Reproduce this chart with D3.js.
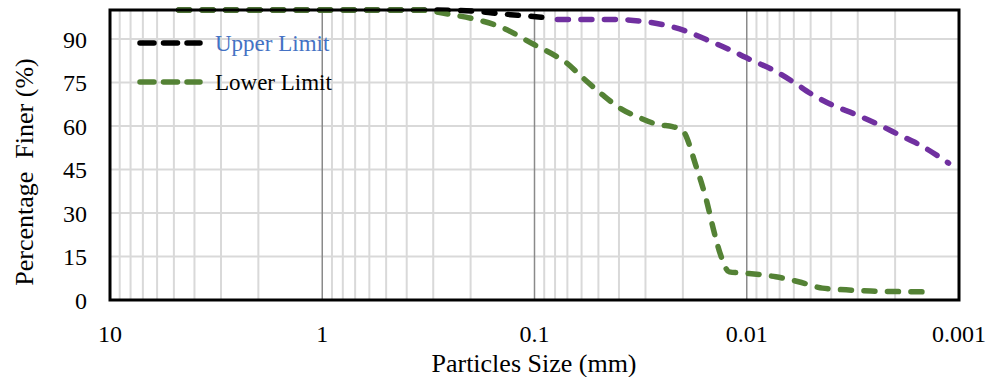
<!DOCTYPE html>
<html>
<head>
<meta charset="utf-8">
<script src="https://cdn.jsdelivr.net/npm/d3@7"></script>
<style>
  html, body { margin: 0; padding: 0; background: #fff; }
  svg { display: block; }
</style>
</head>
<body>
<svg id="chart" width="990" height="377"></svg>
<script>
// Grain-size distribution envelope (particle size in mm, percent finer)
const upperSizes = [4.75, 0.3, 0.19, 0.15, 0.12, 0.085];
const upperFiner = [100, 100, 99.6, 98.8, 98.2, 97.3];

const upperFineSizes = [0.078, 0.041, 0.031, 0.025, 0.0193, 0.0155, 0.0121, 0.0097, 0.0076,
                        0.0061, 0.0049, 0.004, 0.00305, 0.00238, 0.00192, 0.00149, 0.00112];
const upperFineFiner = [96.7, 96.7, 96.1, 95, 92.7, 89.8, 86.4, 83, 79.5,
                        75.4, 70.8, 67.4, 63.9, 60.4, 57, 53, 47.2];

const lowerSizes = [4.75, 0.35, 0.25, 0.1875, 0.146, 0.1, 0.0787, 0.0707, 0.0594, 0.0479,
                    0.0398, 0.0321, 0.0258, 0.0224, 0.0201, 0.0173, 0.0155, 0.0142, 0.0132,
                    0.0121, 0.01, 0.0073, 0.0057, 0.0044, 0.0034, 0.0026, 0.00145];
const lowerFiner = [100, 100, 98.5, 96.7, 94.3, 88, 84, 81.8, 76.7, 70.8,
                    66.3, 62.9, 60.4, 59.8, 58.5, 46, 34.5, 23, 15,
                    9.7, 9.2, 8, 6.3, 4.1, 3.5, 3.1, 2.8];

const xTickValues = [10, 1, 0.1, 0.01, 0.001];
const xTickLabels = ["10", "1", "0.1", "0.01", "0.001"];
const yTickValues = [0, 15, 30, 45, 60, 75, 90];

const legendNames = ["Upper Limit", "Lower Limit"];

const serif = "'Times New Roman', 'Liberation Serif', 'DejaVu Serif', serif";

const svg = d3.select("#chart")
  .attr("font-family", serif);
const plotLeft = 110, plotRight = 959, plotTop = 10, plotBottom = 300;

const x = d3.scaleLog().domain([10, 0.001]).range([plotLeft, plotRight]);
const y = d3.scaleLinear().domain([0, 100]).range([plotBottom, plotTop]);

// minor vertical gridlines (2..9 in each decade)
const minor = [];
[1, 0.1, 0.01, 0.001].forEach(base => {
  for (let k = 2; k <= 9; k++) minor.push(base * k);
});
svg.append("g").selectAll("line").data(minor).join("line")
  .attr("x1", d => x(d)).attr("x2", d => x(d))
  .attr("y1", plotTop).attr("y2", plotBottom)
  .attr("stroke", "#d9d9d9").attr("stroke-width", 2);

// horizontal gridlines
svg.append("g").selectAll("line").data(yTickValues.filter(v => v > 0)).join("line")
  .attr("x1", plotLeft).attr("x2", plotRight)
  .attr("y1", d => y(d)).attr("y2", d => y(d))
  .attr("stroke", "#d9d9d9").attr("stroke-width", 2);

// major decade gridlines
svg.append("g").selectAll("line").data([1, 0.1, 0.01]).join("line")
  .attr("x1", d => x(d)).attr("x2", d => x(d))
  .attr("y1", plotTop).attr("y2", plotBottom)
  .attr("stroke", "#8a8a8a").attr("stroke-width", 1.5);

// curves
const line = d3.line()
  .x(d => x(d[0])).y(d => y(d[1]))
  .curve(d3.curveMonotoneX);

const zip = (a, b) => a.map((v, i) => [v, b[i]]);
const dash = "11,12.5";

function drawCurve(points, color) {
  svg.append("path")
    .attr("d", line(points))
    .attr("fill", "none")
    .attr("stroke", color)
    .attr("stroke-width", 5.5)
    .attr("stroke-linecap", "round")
    .attr("stroke-dasharray", dash);
}

drawCurve(zip(upperSizes, upperFiner), "#000000");
drawCurve(zip(upperFineSizes, upperFineFiner), "#7030A0");
drawCurve(zip(lowerSizes, lowerFiner), "#548235");

// frame
svg.append("rect")
  .attr("x", plotLeft).attr("y", plotTop)
  .attr("width", plotRight - plotLeft).attr("height", plotBottom - plotTop)
  .attr("fill", "none").attr("stroke", "#000").attr("stroke-width", 3);

// y tick labels
svg.append("g").selectAll("text").data(yTickValues).join("text")
  .attr("x", 87).attr("y", d => y(d) + 8.5)
  .attr("text-anchor", "end")
  .attr("font-family", serif)
  .attr("font-size", 24)
  .attr("fill", "#000")
  .text(d => d);

// x tick labels
svg.append("g").selectAll("text").data(xTickValues).join("text")
  .attr("x", d => x(d)).attr("y", 342)
  .attr("text-anchor", "middle")
  .attr("font-family", serif)
  .attr("font-size", 24)
  .attr("fill", "#000")
  .text((d, i) => xTickLabels[i]);

// axis titles
svg.append("text")
  .attr("x", 534).attr("y", 372)
  .attr("text-anchor", "middle")
  .attr("font-family", serif)
  .attr("font-size", 26)
  .attr("fill", "#000")
  .text("Particles Size (mm)");

svg.append("text")
  .attr("transform", "translate(33,172) rotate(-90)")
  .attr("text-anchor", "middle")
  .attr("font-family", serif)
  .attr("font-size", 26)
  .attr("fill", "#000")
  .style("white-space", "pre")
  .text("Percentage  Finer (%)");

// legend
const legendColors = ["#000000", "#548235"];
const legendTextColors = ["#4472C4", "#000000"];
const legendY = [43, 82];
const lg = svg.append("g");
legendNames.forEach((name, i) => {
  lg.append("line")
    .attr("x1", 140).attr("x2", 200)
    .attr("y1", legendY[i]).attr("y2", legendY[i])
    .attr("stroke", legendColors[i])
    .attr("stroke-width", 5.5)
    .attr("stroke-linecap", "round")
    .attr("stroke-dasharray", "14,9.5");
  lg.append("text")
    .attr("x", 215).attr("y", legendY[i] + 7.5)
    .attr("font-family", serif)
    .attr("font-size", 23)
    .attr("fill", legendTextColors[i])
    .text(name);
});
</script>
</body>
</html>
